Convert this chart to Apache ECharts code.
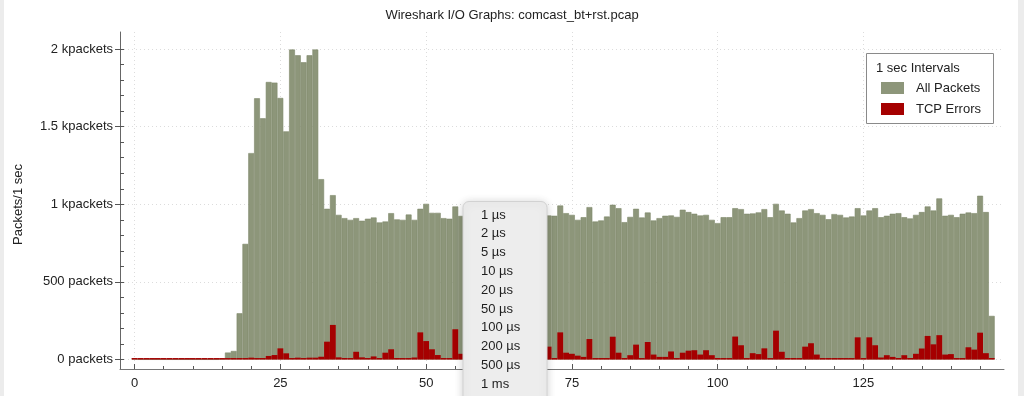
<!DOCTYPE html>
<html>
<head>
<meta charset="utf-8">
<script src="https://cdn.jsdelivr.net/npm/echarts@6/dist/echarts.min.js"></script>
<style>
html,body{margin:0;padding:0;background:#fff;}
#chart{width:1024px;height:396px;}
</style>
</head>
<body>
<div id="chart"></div>
<script>
// ---- data ----
const titleText = 'Wireshark I/O Graphs: comcast_bt+rst.pcap';
const yAxisName = 'Packets/1 sec';
const intervalLabel = '1 sec Intervals';
const seriesNames = ['All Packets', 'TCP Errors'];
const yTickValues = [0, 500, 1000, 1500, 2000];
const yTickLabels = ['0 packets', '500 packets', '1 kpackets', '1.5 kpackets', '2 kpackets'];
const xTickValues = [0, 25, 50, 75, 100, 125];
const menuItems = ['1 \u00b5s', '2 \u00b5s', '5 \u00b5s', '10 \u00b5s', '20 \u00b5s', '50 \u00b5s', '100 \u00b5s', '200 \u00b5s', '500 \u00b5s', '1 ms'];

const allPackets = [
  8, 0, 0, 0, 0, 0, 0, 0, 0, 0,
  0, 0, 0, 0, 0, 5, 45, 55, 298, 745,
  1330, 1683, 1554, 1788, 1784, 1685, 1470, 1997, 1960, 1915,
  1960, 1997, 1162, 971, 1059, 932, 911, 900, 911, 894,
  907, 915, 883, 889, 943, 903, 900, 934, 900, 971,
  1003, 945, 945, 911, 907, 986, 925, 935, 958, 918,
  1001, 947, 926, 969, 909, 940, 983, 921, 950, 932,
  915, 928, 926, 992, 943, 932, 900, 917, 982, 889,
  896, 921, 997, 975, 885, 919, 971, 915, 947, 896,
  911, 926, 928, 919, 965, 950, 939, 928, 932, 900,
  879, 917, 917, 975, 969, 939, 941, 948, 969, 917,
  1003, 960, 939, 883, 911, 960, 969, 943, 932, 904,
  937, 932, 915, 921, 975, 928, 960, 975, 917, 926,
  939, 943, 917, 909, 932, 950, 986, 960, 1038, 926,
  932, 917, 939, 947, 943, 1055, 950, 281
];
const tcpErrors = [
  0, 0, 0, 0, 0, 0, 0, 0, 0, 0,
  0, 0, 0, 0, 0, 0, 0, 0, 5, 5,
  12, 5, 5, 23, 29, 72, 40, 5, 12, 5,
  12, 12, 18, 115, 223, 14, 10, 4, 50, 14,
  6, 20, 6, 44, 66, 10, 8, 8, 13, 175,
  119, 66, 29, 0, 0, 195, 37, 18, 6, 42,
  110, 12, 5, 28, 64, 9, 85, 14, 30, 6,
  45, 83, 10, 175, 44, 37, 25, 17, 132, 6,
  6, 6, 147, 44, 10, 28, 96, 6, 113, 32,
  17, 17, 52, 0, 44, 57, 60, 32, 60, 28,
  10, 0, 6, 148, 92, 6, 41, 35, 72, 4,
  186, 50, 10, 10, 0, 83, 105, 32, 0, 0,
  6, 0, 0, 0, 143, 6, 143, 92, 13, 28,
  17, 10, 28, 10, 37, 71, 152, 98, 157, 32,
  35, 6, 6, 79, 64, 173, 41, 10
];
const seconds = allPackets.map((_, i) => i);

// ---- chart ----
const chart = echarts.init(document.getElementById('chart'), null, {renderer: 'canvas'});
const FONT = 'Liberation Sans';
const TXT = '#222';
const hundreds = [];
for (let v = 0; v <= 2000; v += 100) hundreds.push(v);
const fives = [];
for (let v = 0; v <= 145; v += 5) fives.push(v);

const yRange = {min: -61, max: 2110};
const xRange = {min: -2.5, max: 149.1};

const option = {
  backgroundColor: '#fff',
  animation: false,
  textStyle: {fontFamily: FONT},
  title: {
    text: titleText, left: 'center', top: 4,
    textStyle: {fontFamily: FONT, fontSize: 13, fontWeight: 'normal', color: TXT}
  },
  grid: [{left: 120, right: 20, top: 32, bottom: 27}],
  legend: {
    orient: 'vertical', left: 881, top: 81, z: 10,
    itemWidth: 23, itemHeight: 12, itemGap: 7,
    icon: 'rect', padding: 0,
    itemStyle: {borderWidth: 0},
    textStyle: {fontFamily: FONT, fontSize: 13, color: TXT, lineHeight: 14, padding: [0, 0, 0, 7]},
    data: seriesNames
  },
  xAxis: [{
    type: 'value', min: xRange.min, max: xRange.max,
    axisLine: {show: true, onZero: false, lineStyle: {color: '#777', width: 1}},
    axisTick: {show: true, inside: true, length: 5, customValues: xTickValues, lineStyle: {color: '#555'}},
    axisLabel: {customValues: xTickValues, margin: 8, fontFamily: FONT, fontSize: 13, color: TXT},
    splitLine: {show: true, lineStyle: {color: '#dcdcdc', type: [1, 3]}}
  }, {
    type: 'value', min: xRange.min, max: xRange.max, position: 'bottom',
    axisLine: {show: false, onZero: false},
    axisTick: {show: true, inside: true, length: 3, customValues: fives, lineStyle: {color: '#555'}},
    axisLabel: {show: false},
    splitLine: {show: false}
  }],
  yAxis: [{
    type: 'value', min: yRange.min, max: yRange.max,
    axisLine: {show: true, onZero: false, lineStyle: {color: '#666', width: 1}},
    axisTick: {show: true, inside: false, length: 5, customValues: yTickValues, lineStyle: {color: '#555'}},
    axisLabel: {
      customValues: yTickValues, margin: 7, fontFamily: FONT, fontSize: 13, color: TXT,
      formatter: v => yTickLabels[yTickValues.indexOf(v)]
    },
    splitLine: {show: true, lineStyle: {color: '#dcdcdc', type: [1, 3]}}
  }, {
    type: 'value', min: yRange.min, max: yRange.max, position: 'left',
    axisLine: {show: false, onZero: false},
    axisTick: {show: true, inside: true, length: 4, customValues: hundreds, lineStyle: {color: '#555'}},
    axisLabel: {show: false},
    splitLine: {show: false}
  }],
  series: [{
    name: seriesNames[0], type: 'bar', xAxisIndex: 0, yAxisIndex: 0,
    data: seconds.map((s, i) => [s, allPackets[i]]),
    barWidth: '100%', barGap: '-100%',
    itemStyle: {color: '#8d967a', borderColor: '#7e8869', borderWidth: 0.6},
    z: 2
  }, {
    name: seriesNames[1], type: 'bar', xAxisIndex: 0, yAxisIndex: 0,
    data: seconds.map((s, i) => [s, tcpErrors[i]]),
    barWidth: '100%', barGap: '-100%', barMinHeight: 1.5,
    itemStyle: {color: '#a50000'},
    z: 3
  }],
  graphic: [
    {type: 'rect', z: 0, silent: true, shape: {x: 0, y: 0, width: 4, height: 396}, style: {fill: '#ececec'}},
    {type: 'rect', z: 0, silent: true, shape: {x: 1018, y: 0, width: 6, height: 396}, style: {fill: '#ececec'}},
    // y axis title
    {type: 'text', z: 12, silent: true, x: 18, y: 204.5, rotation: Math.PI / 2,
      style: {text: yAxisName, font: '13px "Liberation Sans"', fill: TXT, align: 'center', verticalAlign: 'middle'}},
    // legend frame
    {type: 'rect', z: 3, silent: true, shape: {x: 866.5, y: 53.5, width: 127, height: 70},
      style: {fill: '#fff', stroke: '#8a8a8a', lineWidth: 1}},
    {type: 'text', z: 12, silent: true, x: 876, y: 68,
      style: {text: intervalLabel, font: '13px "Liberation Sans"', fill: TXT, verticalAlign: 'middle'}},
    // popup menu
    {type: 'rect', z: 200, silent: true, shape: {x: 463, y: 201.5, width: 84, height: 210, r: 6},
      style: {fill: '#ededed', stroke: '#d2d2d2', lineWidth: 1, shadowBlur: 8, shadowColor: 'rgba(0,0,0,0.18)', shadowOffsetY: 1}},
    ...menuItems.map((t, i) => ({
      type: 'text', z: 201, silent: true, x: 481, y: 215 + i * 18.8,
      style: {text: t, font: '13px "Liberation Sans"', fill: '#1e1e1e', verticalAlign: 'middle'}
    }))
  ]
};
chart.setOption(option);
</script>
</body>
</html>
